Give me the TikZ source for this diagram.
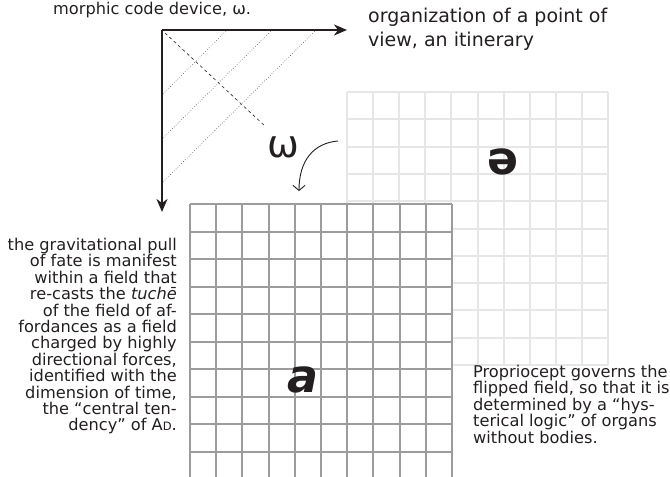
\documentclass[tikz,border=0pt]{standalone}
\usepackage{fontspec}
\setmainfont{DejaVu Sans}
\usetikzlibrary{arrows.meta}
\definecolor{backgrid}{HTML}{E6E6E6}
\definecolor{frontgrid}{HTML}{9C9C9C}
\definecolor{ink}{HTML}{231F20}

\begin{document}
\begin{tikzpicture}[x=1pt, y=-1pt,
  gridback/.style={backgrid, line width=1.8pt},
  gridfront/.style={frontgrid, line width=1.6pt},
  axis/.style={ink, line width=1.8pt, -{Stealth[length=13pt, width=11pt, inset=4pt]}},
  hatch/.style={black!70, dotted, line width=0.6pt},
  caption/.style={font=\fontsize{16.2}{16.4}\selectfont, inner sep=0pt, text=ink}]
  \useasboundingbox (0,0) rectangle (670,477);
  % back field (flipped)
  \draw[gridback] (347,92) -- (347,365);
  \draw[gridback] (373,92) -- (373,365);
  \draw[gridback] (399,92) -- (399,365);
  \draw[gridback] (425,92) -- (425,365);
  \draw[gridback] (451,92) -- (451,365);
  \draw[gridback] (478,92) -- (478,365);
  \draw[gridback] (504,92) -- (504,365);
  \draw[gridback] (530,92) -- (530,365);
  \draw[gridback] (556,92) -- (556,365);
  \draw[gridback] (582,92) -- (582,365);
  \draw[gridback] (608,92) -- (608,365);
  \draw[gridback] (347,92) -- (608,92);
  \draw[gridback] (347,119) -- (608,119);
  \draw[gridback] (347,147) -- (608,147);
  \draw[gridback] (347,174) -- (608,174);
  \draw[gridback] (347,201) -- (608,201);
  \draw[gridback] (347,229) -- (608,229);
  \draw[gridback] (347,256) -- (608,256);
  \draw[gridback] (347,283) -- (608,283);
  \draw[gridback] (347,310) -- (608,310);
  \draw[gridback] (347,338) -- (608,338);
  \draw[gridback] (347,365) -- (608,365);
  \node[font=\fontsize{46}{46}\selectfont\bfseries, text=ink] (flip) at (503,162) {ə};
  % front field
  \fill[white] (190,204) rectangle (452,479);
  \draw[gridfront] (190,204) -- (190,479);
  \draw[gridfront] (216,204) -- (216,479);
  \draw[gridfront] (242,204) -- (242,479);
  \draw[gridfront] (269,204) -- (269,479);
  \draw[gridfront] (295,204) -- (295,479);
  \draw[gridfront] (321,204) -- (321,479);
  \draw[gridfront] (347,204) -- (347,479);
  \draw[gridfront] (373,204) -- (373,479);
  \draw[gridfront] (400,204) -- (400,479);
  \draw[gridfront] (426,204) -- (426,479);
  \draw[gridfront] (452,204) -- (452,479);
  \draw[gridfront] (190,204) -- (452,204);
  \draw[gridfront] (190,232) -- (452,232);
  \draw[gridfront] (190,259) -- (452,259);
  \draw[gridfront] (190,287) -- (452,287);
  \draw[gridfront] (190,314) -- (452,314);
  \draw[gridfront] (190,342) -- (452,342);
  \draw[gridfront] (190,369) -- (452,369);
  \draw[gridfront] (190,397) -- (452,397);
  \draw[gridfront] (190,424) -- (452,424);
  \draw[gridfront] (190,452) -- (452,452);
  \draw[gridfront] (190,479) -- (452,479);
  \node[font=\fontsize{46}{46}\selectfont\bfseries\itshape, text=ink] (afield) at (303,380) {a};
  % code device
  \coordinate (origin) at (162,30);
  \coordinate (xend) at (347,30);
  \coordinate (yend) at (162,212);
  \draw[hatch] (163,94) -- (226,31);
  \draw[hatch] (163,138) -- (271,31);
  \draw[hatch] (163,182) -- (315,31);
  \draw[ink, dashed, line width=0.6pt] (165,33) -- (266,127);
  \draw[axis] (origin) -- (xend);
  \draw[axis] (origin) -- (yend);
  \node[font=\fontsize{38}{38}\selectfont, text=ink] (omega) at (283,147) {ω};
  \coordinate (bendstart) at (338,141);
  \coordinate (bendend) at (299,191);
  \draw[ink, line width=0.9pt, -{Straight Barb[length=5pt, width=12pt]}] (bendstart) .. controls (314,143) and (299,160) .. (bendend);
  % texts
  \node[caption, anchor=base west] (device) at (53,14) {morphic code device, ω.};
  \node[font=\fontsize{19}{24}\selectfont, inner sep=0pt, text=ink, align=left, anchor=north west] (itinerary) at (368,8)
    {organization of a point of\\view, an itinerary};
  \node[caption, align=right, anchor=north east] (pull) at (177,238)
    {the gravitational pull\\of fate is manifest\\within a field that\\re-casts the \textit{tuchē}\\of the field of af-\\fordances as a field\\charged by highly\\directional forces,\\identified with the\\dimension of time,\\the “central ten-\\dency” of A{\fontsize{11.5}{11.5}\selectfont D}.};
  \node[caption, align=left, anchor=north west] (proprio) at (473,365)
    {Propriocept governs the\\flipped field, so that it is\\determined by a “hys-\\terical logic” of organs\\without bodies.};
\end{tikzpicture}
\end{document}
